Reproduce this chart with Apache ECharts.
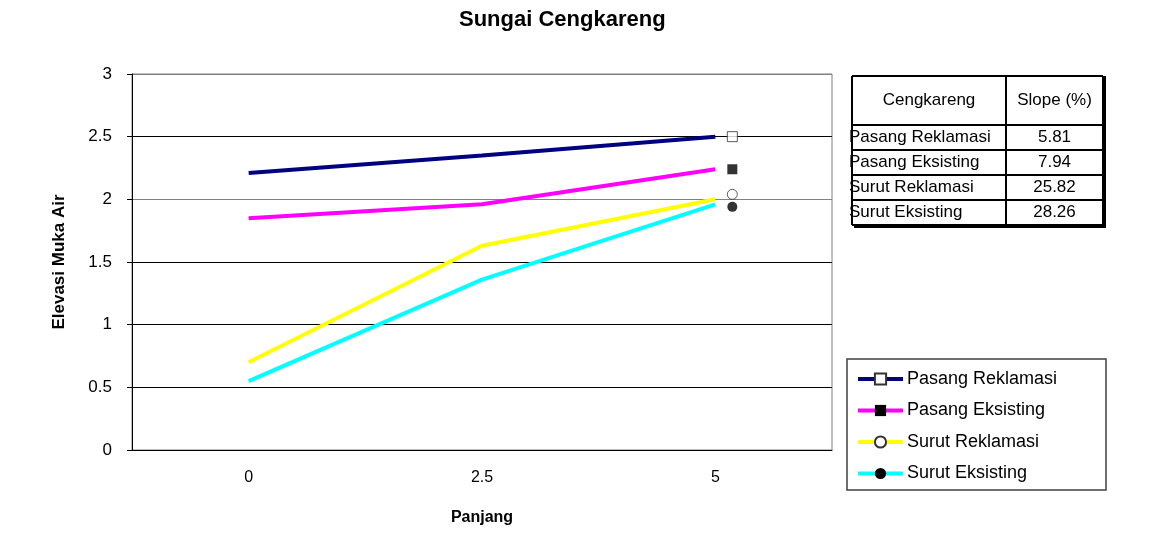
<!DOCTYPE html>
<html>
<head>
<meta charset="utf-8">
<script src="https://cdn.jsdelivr.net/npm/echarts@6/dist/echarts.min.js"></script>
<style>
  html, body { margin: 0; padding: 0; background: #fff; }
  #chart { width: 1152px; height: 552px; }
</style>
</head>
<body>
<div id="chart"></div>
<script>
  // data
  const categories = ['0', '2.5', '5'];
  const seriesNames = ['Pasang Reklamasi', 'Pasang Eksisting', 'Surut Reklamasi', 'Surut Eksisting'];
  const pasangReklamasi = [2.21, 2.35, 2.50];
  const pasangEksisting = [1.85, 1.96, 2.24];
  const surutReklamasi = [0.70, 1.63, 2.00];
  const surutEksisting = [0.55, 1.36, 1.96];
  // loose markers drawn just right of the last point
  const endMarkers = [2.50, 2.24, 2.04, 1.94];
  const yTicks = [0, 0.5, 1, 1.5, 2, 2.5, 3];
  // table in the top right
  const tableHeader = ['Cengkareng', 'Slope (%)'];
  const tableNames = ['Pasang Reklamasi', 'Pasang Eksisting', 'Surut Reklamasi', 'Surut Eksisting'];
  const slopes = ['5.81', '7.94', '25.82', '28.26'];

  const font = "'Liberation Sans', Arial, sans-serif";
  const lineColors = ['#000080', '#ff00ff', '#ffff00', '#00ffff'];
  const symbols = ['rect', 'rect', 'circle', 'circle'];
  const hollow = [true, false, true, false];
  const values = [pasangReklamasi, pasangEksisting, surutReklamasi, surutEksisting];

  const myChart = echarts.init(document.getElementById('chart'));

  const markStyle = (i) => (hollow[i]
    ? { color: '#fff', borderColor: '#333', borderWidth: 1 }
    : { color: '#000', borderColor: '#000', borderWidth: 0 });

  const series = [];
  values.forEach((data, i) => {
    series.push({
      name: seriesNames[i],
      type: 'line',
      data: data,
      symbol: symbols[i],
      showSymbol: false,
      lineStyle: { color: lineColors[i], width: 4 },
      itemStyle: markStyle(i),
      emphasis: { disabled: true },
      z: 3,
    });
  });
  values.forEach((data, i) => {
    series.push({
      name: seriesNames[i],
      type: 'scatter',
      data: [[2, endMarkers[i]]],
      symbol: symbols[i],
      symbolSize: 10,
      symbolOffset: [17, 0],
      itemStyle: markStyle(i),
      emphasis: { disabled: true },
      z: 4,
    });
  });

  // table drawn as graphic elements
  const tX = 852, tDiv = 1006, tR = 1103, tTop = 76, headH = 49, rowH = 25;
  const tBottom = tTop + headH + rowH * tableNames.length;
  const graphics = [];
  graphics.push({ type: 'rect', shape: { x: tX, y: tTop, width: tR - tX, height: tBottom - tTop }, style: { fill: '#fff', stroke: null }, z: 1 });
  graphics.push({ type: 'text', x: (tX + tDiv) / 2, y: tTop + headH / 2, style: { text: tableHeader[0], font: '17px ' + font, fill: '#000', align: 'center', verticalAlign: 'middle' }, z: 2 });
  graphics.push({ type: 'text', x: (tDiv + tR) / 2, y: tTop + headH / 2, style: { text: tableHeader[1], font: '17px ' + font, fill: '#000', align: 'center', verticalAlign: 'middle' }, z: 2 });
  tableNames.forEach((name, i) => {
    const cy = tTop + headH + rowH * i + rowH / 2;
    graphics.push({ type: 'text', x: tX - 3, y: cy, style: { text: name, font: '17px ' + font, fill: '#000', align: 'left', verticalAlign: 'middle' }, z: 2 });
    graphics.push({ type: 'text', x: (tDiv + tR) / 2, y: cy, style: { text: slopes[i], font: '17px ' + font, fill: '#000', align: 'center', verticalAlign: 'middle' }, z: 2 });
  });
  for (let i = 0; i <= tableNames.length; i++) {
    const y = tTop + headH + rowH * i;
    graphics.push({ type: 'line', shape: { x1: tX, y1: y, x2: tR, y2: y }, style: { stroke: '#000', lineWidth: 2 }, z: 3 });
  }
  graphics.push({ type: 'line', shape: { x1: tX, y1: tTop, x2: tR, y2: tTop }, style: { stroke: '#000', lineWidth: 2 }, z: 3 });
  graphics.push({ type: 'line', shape: { x1: tX, y1: tTop, x2: tX, y2: tBottom }, style: { stroke: '#000', lineWidth: 2 }, z: 3 });
  graphics.push({ type: 'line', shape: { x1: tDiv, y1: tTop, x2: tDiv, y2: tBottom }, style: { stroke: '#000', lineWidth: 2 }, z: 3 });
  graphics.push({ type: 'line', shape: { x1: tR + 1, y1: tTop, x2: tR + 1, y2: tBottom + 2 }, style: { stroke: '#000', lineWidth: 4 }, z: 3 });
  graphics.push({ type: 'line', shape: { x1: tX + 2, y1: tBottom + 1, x2: tR + 3, y2: tBottom + 1 }, style: { stroke: '#000', lineWidth: 4 }, z: 3 });
  // legend frame
  graphics.push({ type: 'rect', shape: { x: 847, y: 359, width: 259, height: 131 }, style: { fill: null, stroke: '#404040', lineWidth: 1.5 }, z: 1 });

  const options = {
    backgroundColor: '#fff',
    animation: false,
    title: {
      text: 'Sungai Cengkareng',
      left: 454,
      top: 4,
      textStyle: { fontFamily: font, fontSize: 22, fontWeight: 'bold', color: '#000' },
    },
    legend: {
      orient: 'vertical',
      left: 856,
      top: 370,
      padding: 0,
      itemWidth: 45,
      itemHeight: 14,
      itemGap: 13.5,
      data: seriesNames,
      lineStyle: { width: 4 },
      textStyle: { fontFamily: font, fontSize: 18, color: '#000', padding: [0, 0, 0, -1] },
    },
    grid: {
      left: 132,
      right: 320,
      top: 74,
      bottom: 102,
      show: true,
      borderColor: '#808080',
      borderWidth: 1,
    },
    xAxis: {
      type: 'category',
      data: categories,
      boundaryGap: true,
      name: 'Panjang',
      nameLocation: 'middle',
      nameGap: 60,
      nameTextStyle: { fontFamily: font, fontSize: 16, fontWeight: 'bold', color: '#000' },
      axisLine: { lineStyle: { color: '#000', width: 1 } },
      axisTick: { length: 7, lineStyle: { color: '#000' } },
      axisLabel: { fontFamily: font, fontSize: 16, color: '#000', margin: 20 },
    },
    yAxis: {
      type: 'value',
      min: yTicks[0],
      max: yTicks[yTicks.length - 1],
      interval: 0.5,
      name: 'Elevasi Muka Air',
      nameLocation: 'middle',
      nameGap: 64,
      nameTextStyle: { fontFamily: font, fontSize: 17, fontWeight: 'bold', color: '#000' },
      axisLine: { show: true, lineStyle: { color: '#000', width: 1 } },
      axisTick: { show: true, length: 5, lineStyle: { color: '#000' } },
      axisLabel: { fontFamily: font, fontSize: 17, color: '#000', margin: 20 },
      splitLine: { lineStyle: { color: ['#000', '#000', '#000', '#000', '#808080', '#000', '#808080'], width: 1 } },
    },
    graphic: graphics,
    series,
  };

  myChart.setOption(options);
</script>
</body>
</html>
